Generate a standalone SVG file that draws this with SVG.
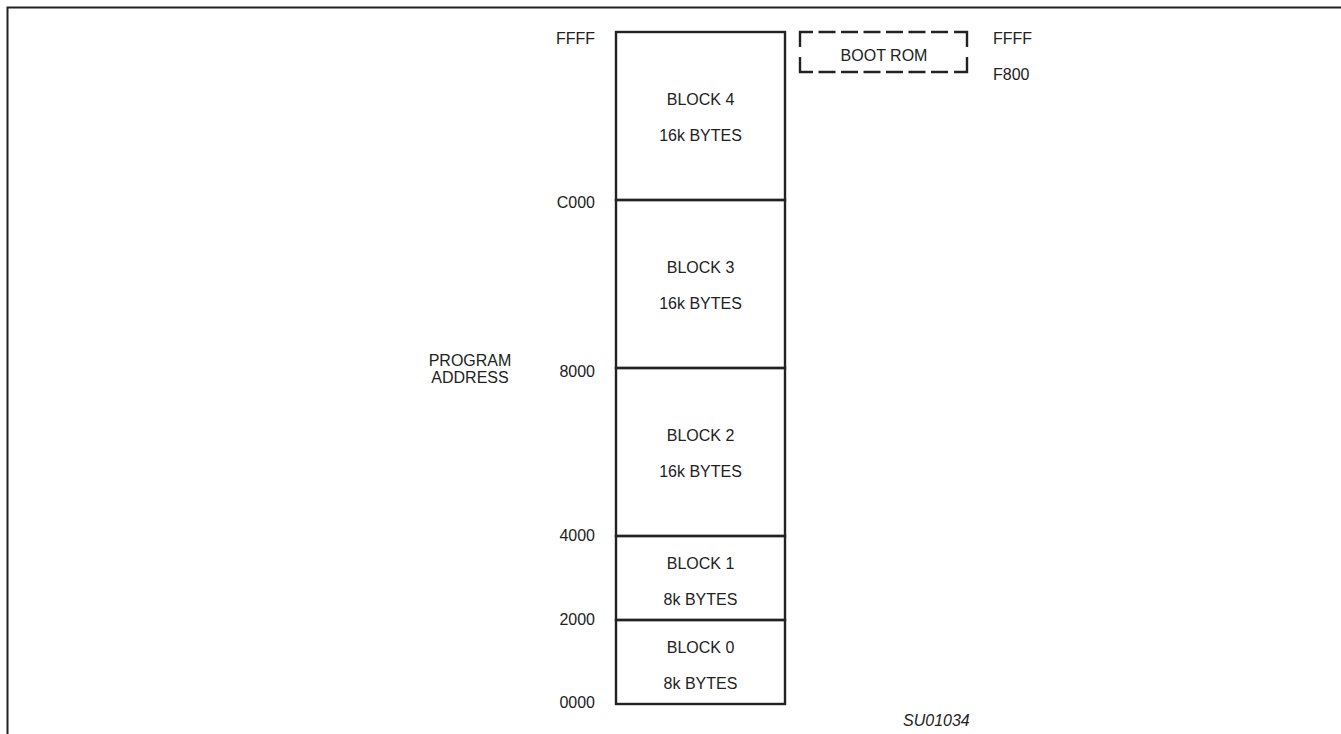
<svg xmlns="http://www.w3.org/2000/svg" width="1341" height="734" viewBox="0 0 1341 734">
<style>
text{font-family:"Liberation Sans",Arial,sans-serif;font-size:16px;fill:#222}
.c{text-anchor:middle}
.r{text-anchor:end}
.blk{fill:none;stroke:#222;stroke-width:2.4}
.dash{fill:none;stroke:#222;stroke-width:2.4}
</style>
<rect width="1341" height="734" fill="#fff"/>
<path d="M7.5 734 V7.5 H1341" fill="none" stroke="#222" stroke-width="2"/>
<g id="block4"><rect class="blk" x="616" y="32" width="169" height="168"/><text class="c" x="700.5" y="105">BLOCK 4</text><text class="c" x="700.5" y="141">16k BYTES</text></g>
<g id="block3"><rect class="blk" x="616" y="200" width="169" height="168"/><text class="c" x="700.5" y="273">BLOCK 3</text><text class="c" x="700.5" y="309">16k BYTES</text></g>
<g id="block2"><rect class="blk" x="616" y="368" width="169" height="168"/><text class="c" x="700.5" y="441">BLOCK 2</text><text class="c" x="700.5" y="477">16k BYTES</text></g>
<g id="block1"><rect class="blk" x="616" y="536" width="169" height="84"/><text class="c" x="700.5" y="569">BLOCK 1</text><text class="c" x="700.5" y="605">8k BYTES</text></g>
<g id="block0"><rect class="blk" x="616" y="620" width="169" height="84"/><text class="c" x="700.5" y="653">BLOCK 0</text><text class="c" x="700.5" y="689">8k BYTES</text></g>
<g id="bootrom">
<path class="dash" d="M813 32 H800 V47 M800 57 V72 H813 M954 32 H967 V47 M967 57 V72 H954
M818.5 32 H835.5 M841 32 H858 M863.5 32 H880.5 M886 32 H903 M908.5 32 H925.5 M931 32 H948
M818.5 72 H835.5 M841 72 H858 M863.5 72 H880.5 M886 72 H903 M908.5 72 H925.5 M931 72 H948"/>
<text class="c" x="884" y="61">BOOT ROM</text></g>
<g id="addresses">
<text class="r" x="595" y="44">FFFF</text>
<text class="r" x="595" y="208">C000</text>
<text class="r" x="595" y="377">8000</text>
<text class="r" x="595" y="541">4000</text>
<text class="r" x="595" y="625">2000</text>
<text class="r" x="595" y="708">0000</text>
<text x="993" y="44">FFFF</text>
<text x="993" y="80">F800</text>
</g>
<g id="label"><text class="c" x="470" y="366">PROGRAM</text><text class="c" x="470" y="383">ADDRESS</text></g>
<text x="903" y="726" font-style="italic">SU01034</text>
<g id="connectors"></g>
</svg>
